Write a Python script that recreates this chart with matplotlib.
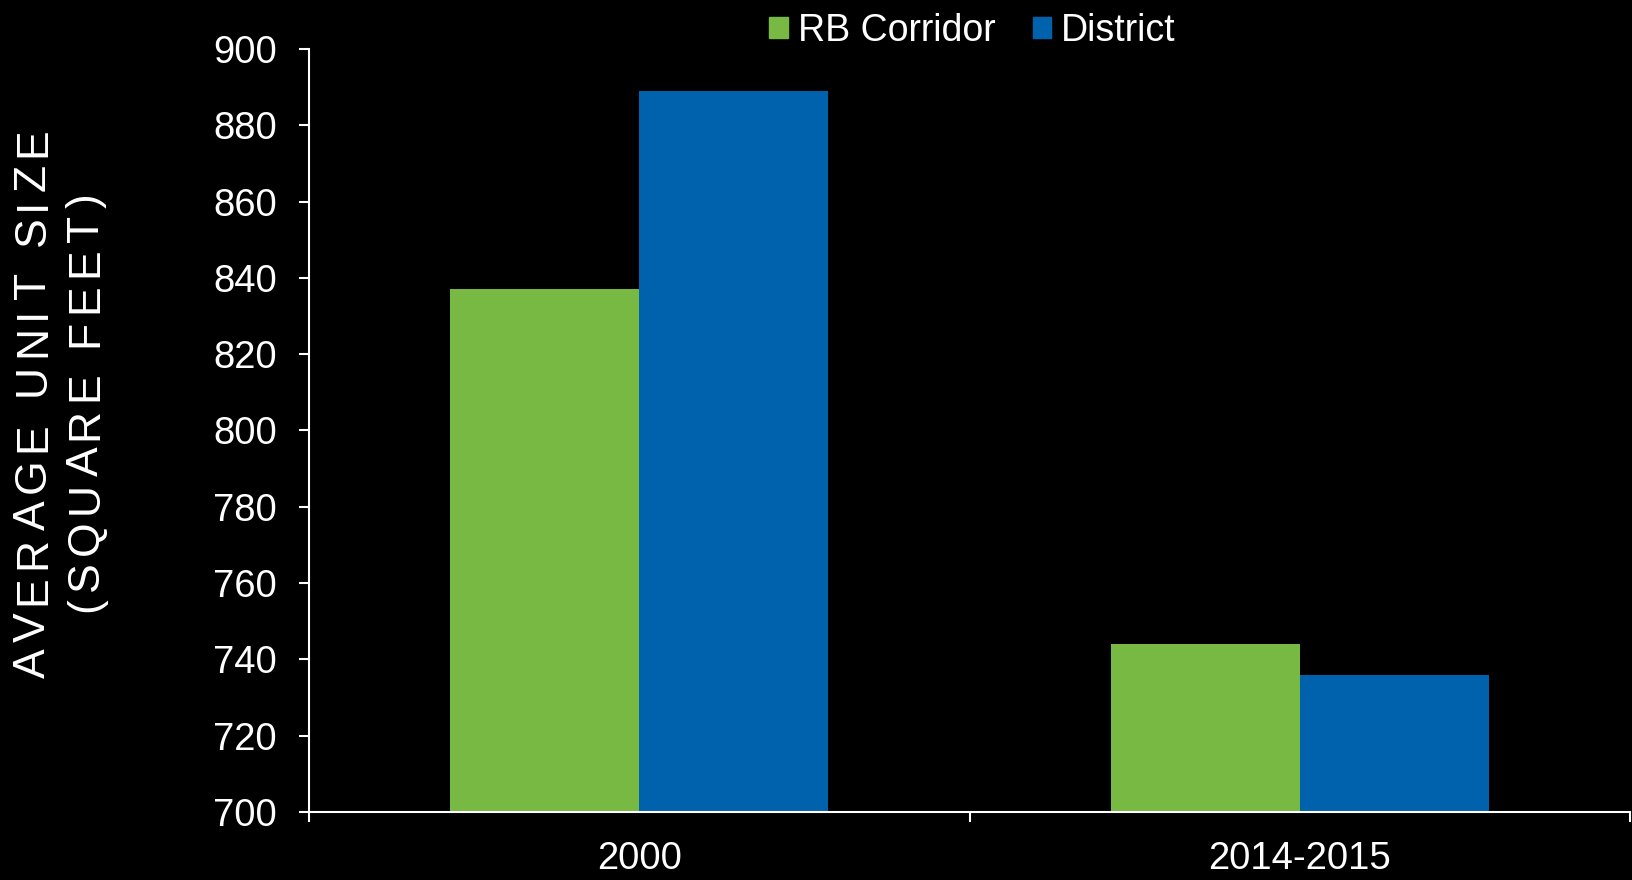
import matplotlib
matplotlib.use("Agg")
import matplotlib.pyplot as plt
import numpy as np
from matplotlib.patches import Patch
from matplotlib.ft2font import FT2Font
from matplotlib.font_manager import findfont, FontProperties
from matplotlib.transforms import offset_copy

categories = ["2000", "2014-2015"]
series_names = ["RB Corridor", "District"]
rb_corridor = [837, 744]
district = [889, 736]
y_ticks = [700, 720, 740, 760, 780, 800, 820, 840, 860, 880, 900]

GREEN = "#77b943"
BLUE = "#0062ad"
FAMILY = "Liberation Sans"

plt.rcParams["font.family"] = [FAMILY, "DejaVu Sans"]


def vertical_spaced(fig, x, y, s, size, track):
    # letter-spaced vertical text, one glyph at a time
    font = FT2Font(findfont(FontProperties(family=FAMILY)))
    font.set_size(size, 72)
    adv = [font.load_char(ord(ch)).linearHoriAdvance / 65536 for ch in s]
    total = sum(adv) + track * (len(s) - 1)
    pos = -total / 2
    for ch, a in zip(s, adv):
        tr = offset_copy(fig.transFigure, fig=fig, x=0, y=pos, units="points")
        fig.text(x, y, ch, transform=tr, rotation=90, rotation_mode="anchor",
                 ha="left", va="center", fontsize=size, color="white")
        pos += a + track


fig = plt.figure(figsize=(16.33, 8.8), dpi=100, facecolor="black")
ax = fig.add_axes([0.1894, 0.0773, 0.8086, 0.867], facecolor="black")

x = np.arange(len(categories))
w = 0.2863
ax.bar(x - w / 2, rb_corridor, width=w, color=GREEN, bottom=0)
ax.bar(x + w / 2, district, width=w, color=BLUE, bottom=0)

ax.set_ylim(700, 900)
ax.set_xlim(-0.5, 1.5)
ax.set_yticks(y_ticks)
ax.set_xticks([-0.5, 0.5, 1.5])
ax.set_xticklabels([])
ax.set_xticks(x, minor=True)
ax.set_xticklabels(categories, minor=True)

for side in ["top", "right"]:
    ax.spines[side].set_visible(False)
for side in ["left", "bottom"]:
    ax.spines[side].set_color("white")
    ax.spines[side].set_linewidth(1.5)

ax.tick_params(axis="y", which="major", colors="white", labelsize=27.5,
               length=7.5, width=1.5, pad=16)
ax.tick_params(axis="x", which="major", colors="white", length=7.5, width=1.5)
ax.tick_params(axis="x", which="minor", colors="white", labelsize=27.5,
               length=0, pad=21)

vertical_spaced(fig, 0.0205, 0.5426, "AVERAGE UNIT SIZE", 32, 4.9)
vertical_spaced(fig, 0.0528, 0.5426, "(SQUARE FEET)", 32, 4.5)

handles = [Patch(color=GREEN), Patch(color=BLUE)]
fig.legend(handles, series_names, loc="center", bbox_to_anchor=(0.5955, 0.965),
           ncol=2, frameon=False, fontsize=27, labelcolor="white",
           handlelength=0.5, handleheight=0.5, handletextpad=0.25,
           columnspacing=1.0, borderpad=0)

fig.savefig("out.png", dpi=100, facecolor="black")
